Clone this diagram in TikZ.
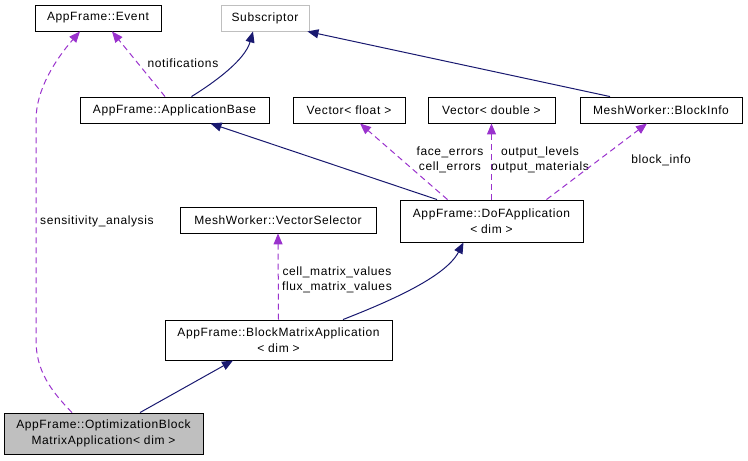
\documentclass[tikz,border=0pt]{standalone}
\usepackage{fontspec}
\setmainfont{Liberation Sans}[LetterSpace=5]
\usetikzlibrary{arrows.meta}
\definecolor{navy}{HTML}{191970}
\definecolor{orchid}{HTML}{9A32CD}
\definecolor{grayb}{HTML}{BFBFBF}
\tikzset{
  box/.style={draw=black, fill=white, line width=0.9pt, inner sep=0pt, align=center,
    font=\fontsize{12}{15.5}\selectfont},
  inh/.style={draw=navy, line width=1pt, -{Triangle[length=11pt,width=9pt]}, navy},
  rel/.style={draw=orchid, line width=1pt, dash pattern=on 6pt off 4pt,
    -{Triangle[length=11pt,width=9pt,fill=orchid]}, orchid},
  lbl/.style={inner sep=0pt, align=center, font=\fontsize{12}{15}\selectfont, text=black}
}
\begin{document}
\begin{tikzpicture}[x=1pt,y=-1pt]
\useasboundingbox (0,0) rectangle (748,461);
% nodes
\node[box, minimum width=126pt, minimum height=26pt] (ev) at (98,18) {AppFrame::Event};
\node[box, draw=grayb, minimum width=88pt, minimum height=26pt] (sub) at (265,18) {Subscriptor};
\node[box, minimum width=189pt, minimum height=26pt] (ab) at (174.5,110) {AppFrame::ApplicationBase};
\node[box, minimum width=112pt, minimum height=26pt] (vf) at (349,110) {Vector< float >};
\node[box, minimum width=127pt, minimum height=26pt] (vd) at (491.5,110) {Vector< double >};
\node[box, minimum width=162pt, minimum height=26pt] (bi) at (661,110) {MeshWorker::BlockInfo};
\node[box, minimum width=183pt, minimum height=42pt] (dof) at (491.5,221) {AppFrame::DoFApplication\\< dim >};
\node[box, minimum width=196pt, minimum height=26pt] (vs) at (278,220) {MeshWorker::VectorSelector};
\node[box, minimum width=227pt, minimum height=40pt] (bma) at (278.5,340) {AppFrame::BlockMatrixApplication\\< dim >};
\node[box, fill=grayb, minimum width=199pt, minimum height=41pt] (opt) at (103.5,433.5) {AppFrame::OptimizationBlock\\MatrixApplication< dim >};
% edges
\draw[inh] ([xshift=17pt]ab.north) .. controls (215,82) and (245,60) .. ([xshift=-12pt]sub.south);
\draw[rel] ([xshift=-9.5pt]ab.north) -- ([xshift=14pt]ev.south);
\node[lbl] (lnot) at (183,63) {notifications};
\draw[inh] ([xshift=-51pt]bi.north) -- ([xshift=-2pt]sub.south east);
\draw[inh] ([xshift=-54.5pt]dof.north) -- ([xshift=36pt]ab.south);
\draw[rel] ([xshift=-44pt]dof.north) -- ([xshift=11pt]vf.south);
\node[lbl] (lfe) at (450,160) {face\_errors\\cell\_errors};
\draw[rel] (dof.north) -- (vd.south);
\node[lbl] (lol) at (540,160) {output\_levels\\output\_materials};
\draw[rel] ([xshift=55pt]dof.north) -- ([xshift=-14pt]bi.south);
\node[lbl] (lbi) at (661,160) {block\_info};
\draw[inh] ([xshift=64.5pt]bma.north) .. controls (385,303) and (445,278) .. ([xshift=-28pt]dof.south);
\draw[rel] (bma.north) -- (vs.south);
\node[lbl] (lcm) at (337,280) {cell\_matrix\_values\\flux\_matrix\_values};
\draw[inh] ([xshift=36.5pt]opt.north) -- ([xshift=-45.5pt]bma.south);
\draw[rel] ([xshift=-31.5pt]opt.north) .. controls (50,390) and (36,370) .. (36,340) -- (36,120) .. controls (36,90) and (55,60) .. ([xshift=-18pt]ev.south);
\node[lbl, anchor=west] (lsa) at (40,221) {sensitivity\_analysis};
\end{tikzpicture}
\end{document}
